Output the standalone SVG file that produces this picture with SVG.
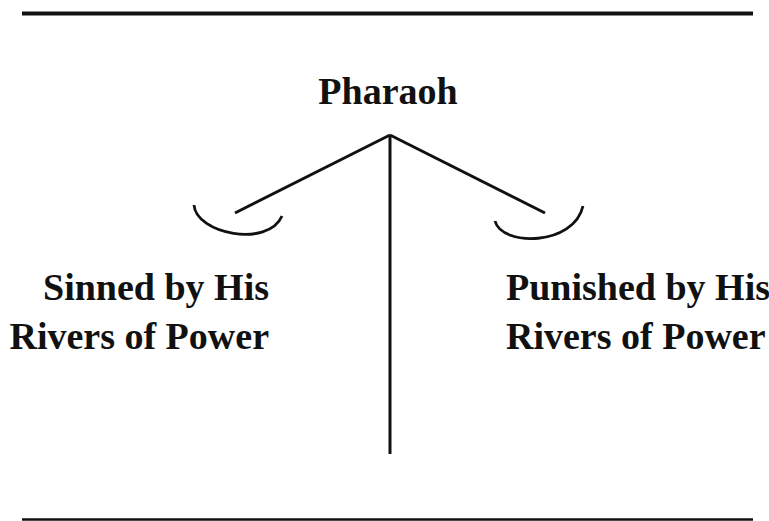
<svg xmlns="http://www.w3.org/2000/svg" width="769" height="521" viewBox="0 0 769 521">
<style>
.t{font-family:"Liberation Serif","Times New Roman",serif;font-weight:bold;font-size:38px;fill:#111}
.l{stroke:#111;fill:none;stroke-linecap:butt}
</style>
<rect width="769" height="521" fill="#fff"/>
<line class="l" x1="22" y1="13.5" x2="753" y2="13.5" stroke-width="4"/>
<line class="l" x1="22" y1="519.5" x2="753" y2="519.5" stroke-width="2.5"/>
<g id="pharaoh"><text class="t" x="388" y="104" text-anchor="middle" font-size="36">Pharaoh</text></g>
<g id="connectors">
<line class="l" x1="390" y1="135" x2="390" y2="454" stroke-width="3"/>
<line class="l" x1="390" y1="135" x2="235" y2="213" stroke-width="3"/>
<line class="l" x1="390" y1="135" x2="545" y2="213" stroke-width="3"/>
<path class="l" d="M194,205 C196,234 268,248 282,216" stroke-width="2.8"/>
<path class="l" d="M495,221 C502,247 574,246 583,206" stroke-width="2.8"/>
</g>
<g id="sinned"><text class="t" text-anchor="end"><tspan x="269" y="300">Sinned by His</tspan><tspan x="269" y="349">Rivers of Power</tspan></text></g>
<g id="punished"><text class="t" font-size="37"><tspan x="506" y="300">Punished by His</tspan><tspan x="506" y="349">Rivers of Power</tspan></text></g>
</svg>
